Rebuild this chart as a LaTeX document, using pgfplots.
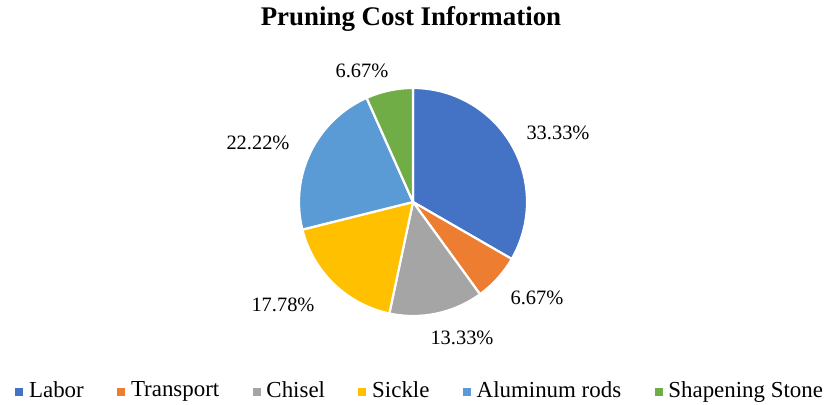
\documentclass[border=0pt]{standalone}
\usepackage{fontspec}
\setmainfont{Liberation Serif}
\usepackage{pgfplots}
\pgfplotsset{compat=1.18}
\definecolor{c1}{HTML}{4472C4}
\definecolor{c2}{HTML}{ED7D31}
\definecolor{c3}{HTML}{A5A5A5}
\definecolor{c4}{HTML}{FFC000}
\definecolor{c5}{HTML}{5B9BD5}
\definecolor{c6}{HTML}{70AD47}
% slice: color, cumulative start (%), value (%)
\newcommand{\pieslice}[3]{%
  \fill[#1, draw=white, line width=2.2bp, line join=round]
    (axis cs:413,203) -- +({90-3.6*(#2)}:114bp)
    arc[start angle={90-3.6*(#2)}, end angle={90-3.6*(#2+#3)}, radius=114bp] -- cycle;}
\begin{document}
\begin{tikzpicture}
\useasboundingbox (0,0) rectangle (824bp,405bp);
\begin{axis}[
  scale only axis, width=824bp, height=405bp,
  xmin=0, xmax=824, ymin=0, ymax=405,
  hide axis, clip=false,
  legend columns=6,
  legend style={draw=none, fill=none, at={(axis cs:15,15)}, anchor=west,
    font=\fontsize{23}{26}\selectfont, inner sep=0pt,
    nodes={inner sep=0.5bp},
    /tikz/every odd column/.append style={column sep=6bp},
    /tikz/every even column/.append style={column sep=32.8bp}},
  legend cell align=left,
]
% values (%): Labor 33.33, Transport 6.67, Chisel 13.33, Sickle 17.78, Aluminum rods 22.22, Shapening Stone 6.67
\pieslice{c1}{0}{33.33}
\pieslice{c2}{33.33}{6.67}
\pieslice{c3}{40.00}{13.33}
\pieslice{c4}{53.33}{17.78}
\pieslice{c5}{71.11}{22.22}
\pieslice{c6}{93.33}{6.67}
\addlegendimage{legend image code/.code={\fill[c1] (0bp,-5bp) rectangle (7bp,2bp);}}
\addlegendentry{Labor}
\addlegendimage{legend image code/.code={\fill[c2] (0bp,-5bp) rectangle (7bp,2bp);}}
\addlegendentry{Transport}
\addlegendimage{legend image code/.code={\fill[c3] (0bp,-5bp) rectangle (7bp,2bp);}}
\addlegendentry{Chisel}
\addlegendimage{legend image code/.code={\fill[c4] (0bp,-5bp) rectangle (7bp,2bp);}}
\addlegendentry{Sickle}
\addlegendimage{legend image code/.code={\fill[c5] (0bp,-5bp) rectangle (7bp,2bp);}}
\addlegendentry{Aluminum rods}
\addlegendimage{legend image code/.code={\fill[c6] (0bp,-5bp) rectangle (7bp,2bp);}}
\addlegendentry{Shapening Stone}
\node[font=\fontsize{27}{30}\selectfont\bfseries] at (axis cs:411,386) {Pruning Cost Information};
\begin{scope}[every node/.style={font=\fontsize{20.5}{24}\selectfont}]
\node at (axis cs:558,272) {33.33\%};
\node at (axis cs:537,107) {6.67\%};
\node at (axis cs:462,67) {13.33\%};
\node at (axis cs:283,100) {17.78\%};
\node at (axis cs:258,262) {22.22\%};
\node at (axis cs:362,334) {6.67\%};
\end{scope}
\end{axis}
\end{tikzpicture}
\end{document}
